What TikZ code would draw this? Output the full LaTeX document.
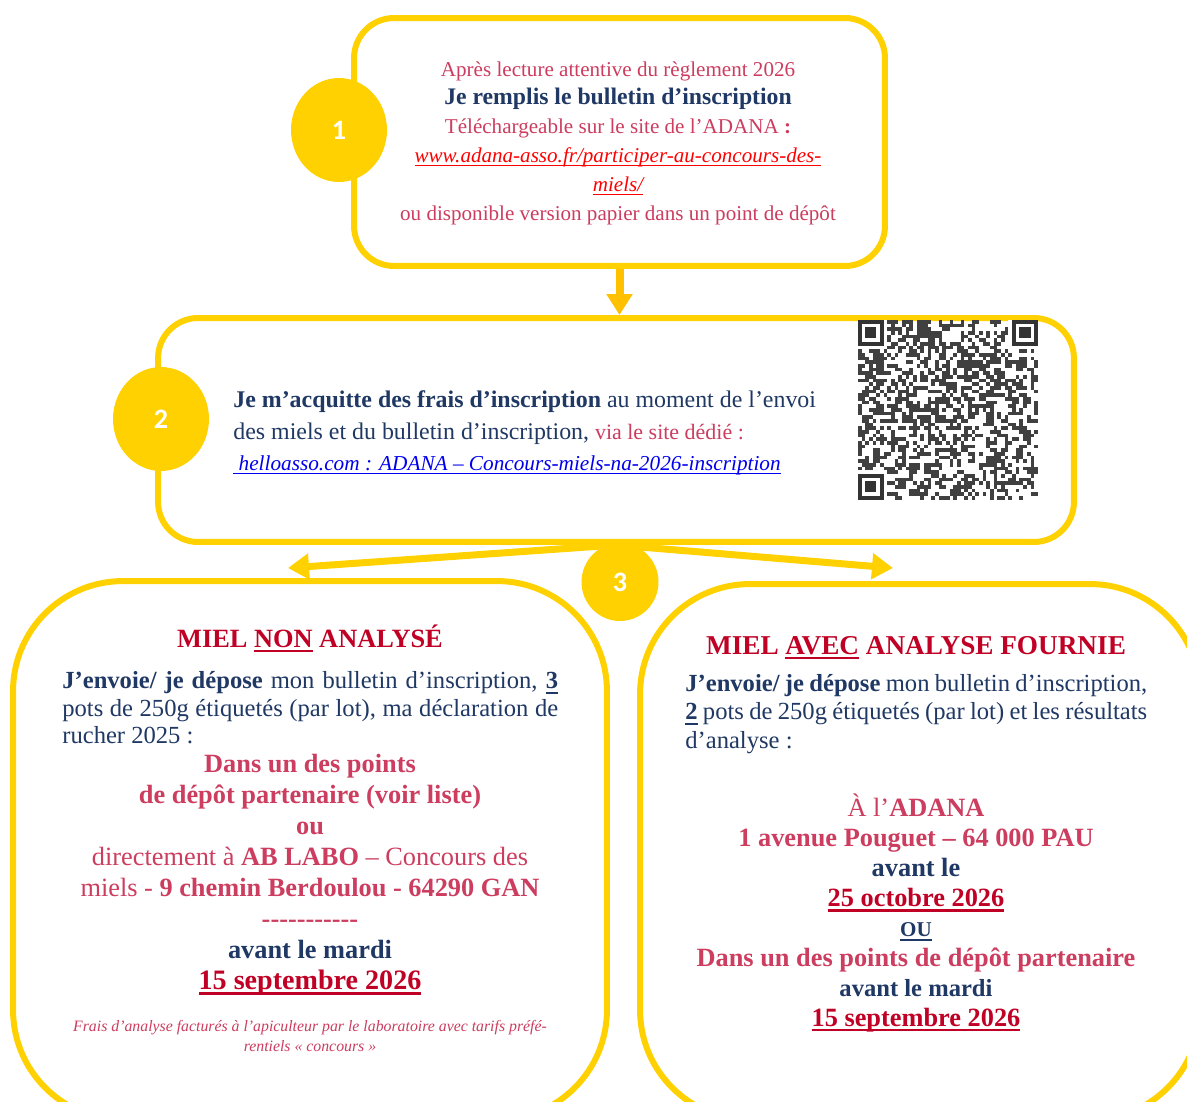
\documentclass[tikz,border=0pt]{standalone}
\usepackage{fontspec}
\setmainfont{Liberation Serif}
\newfontfamily\numfont{Carlito}
\usetikzlibrary{shapes.geometric,arrows.meta}

\definecolor{adyellow}{HTML}{FFD100}
\definecolor{adgold}{HTML}{FFC000}
\definecolor{adnavy}{HTML}{1F3864}
\definecolor{adpink}{HTML}{CC3D5F}
\definecolor{adred}{HTML}{C00025}
\definecolor{adurl}{HTML}{FF0000}
\definecolor{adlink}{HTML}{0000EE}

% underline in the current colour, optional thickness in pt
\newcommand{\ulthick}[2][1.5]{\leavevmode\setbox0\hbox{#2}\rlap{\vrule height -1.5pt depth \dimexpr1.5pt+#1pt\relax width \wd0}\box0\relax}

\tikzset{
  stepbox/.style={draw=adyellow, line width=0.12cm, fill=white, rounded corners=0.8cm, inner sep=0pt},
  bigbox/.style={stepbox, rounded corners=2.2cm},
  stepnum/.style={ellipse, fill=adyellow, text=white, inner sep=0pt, font=\numfont\bfseries\fontsize{16}{18}\selectfont},
  flow/.style={draw=adyellow, line width=0.14cm, -{Triangle[width=0.5cm,length=0.42cm]}},
  txt/.style={inner sep=0pt, text=adnavy},
}

\begin{document}
\begin{tikzpicture}[x=0.02cm, y=-0.02cm]
  \useasboundingbox (0,0) rectangle (1187,1102);
  \clip (0,0) rectangle (1187,1102);
  \fill[white] (0,0) rectangle (1187,1102);

  % the four boxes
  \node[stepbox, minimum width=10.62cm, minimum height=4.96cm] (box1) at (619.5,142) {};
  \node[stepbox, minimum width=18.32cm, minimum height=4.48cm] (box2) at (616,430) {};
  \node[bigbox, minimum width=11.88cm, minimum height=10.78cm] (boxL) at (310,850.5) {};
  \node[bigbox, minimum width=11.2cm, minimum height=10.72cm] (boxR) at (920,852) {};

  % arrows
  \draw[flow, draw=adgold, line width=0.16cm] (box1.south) -- (box1.south |- box2.north);
  \coordinate (tipL) at (288,568);
  \coordinate (tipR) at (893,568);
  \draw[flow] (box2.south) -- (tipL);
  \draw[flow] (box2.south) -- (tipR);

  % step numbers
  \node[stepnum, minimum width=1.92cm, minimum height=2.08cm] (num1) at (339,130) {1};
  \node[stepnum, minimum width=1.92cm, minimum height=2.08cm] (num2) at (161,419) {2};
  \node[stepnum, minimum width=1.54cm, minimum height=1.56cm] (num3) at (620,582) {3};

  % QR code
  \begin{scope}[shift={(858,320)}]
    \def\qrm{3.67}
    \pgfmathsetseed{2026}
    \foreach \i in {0,...,48}
      \foreach \j in {0,...,48}{
        \pgfmathparse{rnd>0.48}
        \ifdim\pgfmathresult pt>0.5pt \fill[black!75] (\i*\qrm,\j*\qrm) rectangle ++(\qrm,\qrm); \fi
      }
    \foreach \cx/\cy/\fx/\fy in {0/0/0/0, 41/0/42/0, 0/41/0/42}{
      \fill[white] (\cx*\qrm,\cy*\qrm) rectangle ++(8*\qrm,8*\qrm);
      \fill[black!80] (\fx*\qrm,\fy*\qrm) rectangle ++(7*\qrm,7*\qrm);
      \fill[white] (\fx*\qrm+\qrm,\fy*\qrm+\qrm) rectangle ++(5*\qrm,5*\qrm);
      \fill[black!80] (\fx*\qrm+2*\qrm,\fy*\qrm+2*\qrm) rectangle ++(3*\qrm,3*\qrm);
    }
  \end{scope}

  % step 1
  \node[txt, align=center, text=adpink, font=\fontsize{12}{16.4}\selectfont] (intro) at (618,143)
    {Après lecture attentive du règlement 2026\\
     {\fontsize{13.5}{16.4}\selectfont\bfseries\color{adnavy}Je remplis le bulletin d’inscription}\\
     Téléchargeable sur le site de l’ADANA \textbf{:}\\
     {\itshape\color{adurl}\ulthick[0.6]{www.adana-asso.fr/participer-au-concours-des-}}\\
     {\itshape\color{adurl}\ulthick[0.6]{miels/}}\\
     ou disponible version papier dans un point de dépôt};

  % step 2
  \node[txt, align=left, anchor=west, font=\fontsize{13.6}{17.9}\selectfont] (fees) at (233,433)
    {{\bfseries Je m’acquitte des frais d’inscription} au moment de l’envoi\\
     des miels et du bulletin d’inscription, {\color{adpink}\fontsize{12.5}{17.9}\selectfont via le site dédié :}\\
     {\itshape\color{adlink}\fontsize{12.1}{17.9}\selectfont\ulthick[0.6]{\ helloasso.com : ADANA – Concours-miels-na-2026-inscription}}};

  % step 3, left
  \node[txt, anchor=base, text=adred, font=\bfseries\fontsize{15}{18}\selectfont] (headL) at (310,647)
    {MIEL \ulthick{NON} ANALYSÉ};
  \node[txt, text width=9.92cm, align=justify, anchor=west, font=\fontsize{14}{15.6}\selectfont] (paraL) at (62,708)
    {{\bfseries J’envoie/ je dépose} mon bulletin d’inscription, \ulthick{\bfseries 3}\linebreak
     pots de 250g étiquetés (par lot), ma déclaration de\linebreak rucher 2025 :};
  \node[txt, align=center, text=adpink, font=\bfseries\fontsize{15}{17.6}\selectfont] (depotL) at (310,875)
    {Dans un des points\\
     de dépôt partenaire (voir liste)\\
     ou\\
     {\mdseries\fontsize{15}{17.6}\selectfont directement à \textbf{AB LABO} – Concours des}\\
     {\mdseries\fontsize{15}{17.6}\selectfont miels - \textbf{9 chemin Berdoulou - 64290 GAN}}\\
     \mbox{-}\mbox{-}\mbox{-}\mbox{-}\mbox{-}\mbox{-}\mbox{-}\mbox{-}\mbox{-}\mbox{-}\mbox{-}\\
     {\color{adnavy}avant le mardi}\\
     {\color{adred}\fontsize{16}{17.6}\selectfont\ulthick{15 septembre 2026}}};
  \node[txt, align=center, text=adpink, font=\itshape\fontsize{9}{11.3}\selectfont] (note) at (310,1036)
    {Frais d’analyse facturés à l’apiculteur par le laboratoire avec tarifs préfé-\\
     rentiels «~concours~»};

  % step 3, right
  \node[txt, anchor=base, text=adred, font=\bfseries\fontsize{15.5}{18}\selectfont] (headR) at (916,654)
    {MIEL \ulthick{AVEC} ANALYSE FOURNIE};
  \node[txt, text width=9.24cm, align=justify, anchor=west, font=\fontsize{14}{16.4}\selectfont] (paraR) at (685,714)
    {{\bfseries J’envoie/ je dépose} mon bulletin d’inscription,\linebreak
     \ulthick{\bfseries 2} pots de 250g étiquetés (par lot) et les résultats\linebreak d’analyse :};
  \node[txt, align=center, text=adpink, font=\bfseries\fontsize{15}{17}\selectfont] (depotR) at (916,913)
    {{\mdseries À l’}ADANA\\
     1 avenue Pouguet – 64 000 PAU\\
     {\color{adnavy}avant le}\\
     {\color{adred}\ulthick{25 octobre 2026}}\\
     {\color{adnavy}\fontsize{12}{17}\selectfont\ulthick[0.9]{OU}}\\
     Dans un des points de dépôt partenaire\\
     {\color{adnavy}\fontsize{14}{17}\selectfont avant le mardi}\\
     {\color{adred}\ulthick{15 septembre 2026}}};
\end{tikzpicture}
\end{document}
